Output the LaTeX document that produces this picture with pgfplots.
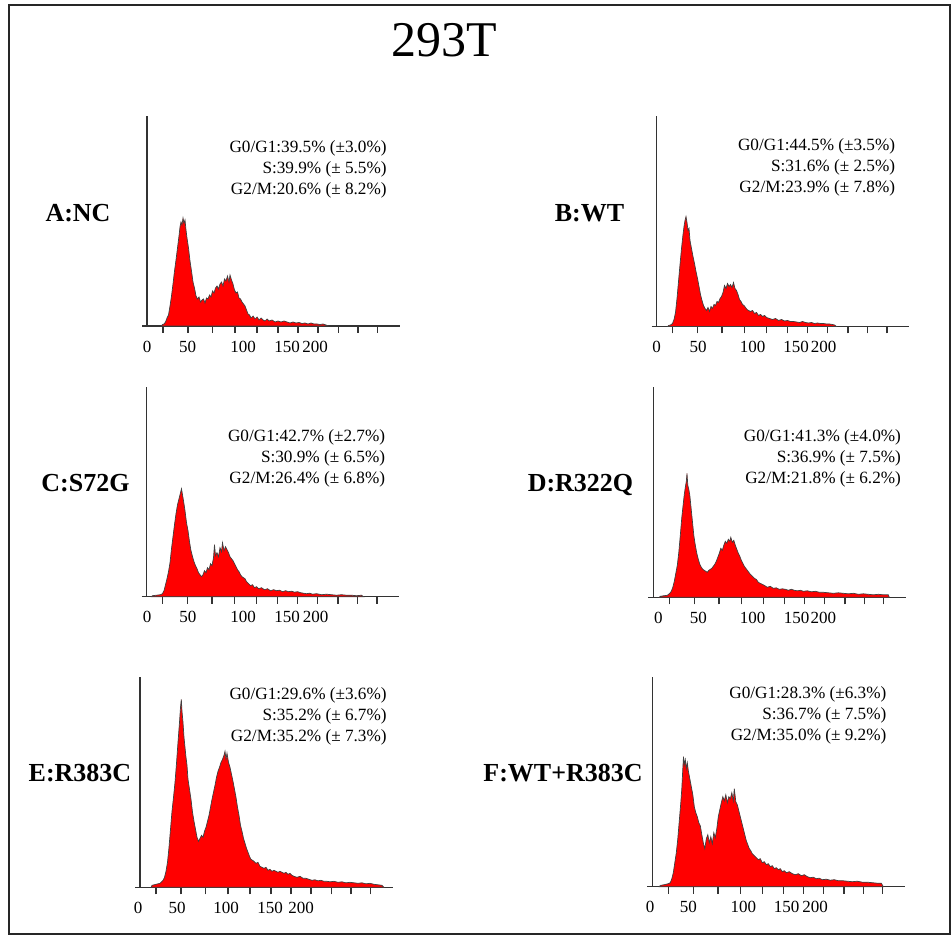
\documentclass[border=0pt]{standalone}
\usepackage{fontspec}
\setmainfont{Liberation Serif}
\usepackage{pgfplots}
\pgfplotsset{compat=1.18}

% one unit = one pixel of the 952x935 reference (0.5pt)
\pgfplotsset{
  hist/.style={
    x=0.5pt, y=0.5pt, anchor=origin,
    xmin=-5, xmax=252.5, ymin=0, ymax=210,
    axis x line=bottom, axis y line=middle,
    axis line style={-, black!80, line width=0.7pt},
    every inner y axis line/.append style={-},
    every outer x axis line/.append style={-},
    ytick=\empty,
    xtick={16,41,65.5,88,110,131,151,171,191.5,211,230.3},
    xticklabels={},
    tick align=outside, major tick length=3.5pt,
    tick style={black!80, line width=0.7pt},
    font=\fontsize{8.5}{10}\selectfont,
    extra x tick labels={0,50,100,150,200},
    extra x tick style={major tick length=0pt, tick label style={anchor=base, yshift=-13pt}},
    clip=false,
  },
  hbar/.style={fill=red, draw=black!75, line width=0.35pt, mark=none},
}
\tikzset{
  note/.style={anchor=base east, inner sep=0pt, font=\fontsize{8.6}{10}\selectfont},
  plab/.style={anchor=base, font=\fontsize{13}{15}\selectfont\bfseries},
}

\begin{document}
\begin{tikzpicture}
\useasboundingbox (0pt,0pt) rectangle (476pt,-467.5pt);
\draw[black!85, line width=1pt] (4.5pt,-2.5pt) rectangle (475pt,-467pt);
\node[anchor=base, font=\fontsize{25}{28}\selectfont] at (222.25pt,-28.5pt) {293T};

\node[plab] at (39pt,-111pt) {A:NC};
\node[plab] at (294.75pt,-111pt) {B:WT};
\node[plab] at (42.75pt,-245.5pt) {C:S72G};
\node[plab] at (290.25pt,-245.5pt) {D:R322Q};
\node[plab] at (40pt,-390.5pt) {E:R383C};
\node[plab] at (281.5pt,-390.5pt) {F:WT+R383C};

% A:NC
\begin{axis}[hist, at={(73.5pt,-163pt)}, extra x ticks={0,40.5,96,140,168}]
\addplot[hbar] coordinates {
(14,0) (15.5,1.5) (17,2) (18.5,4) (20,8) (21.5,11) (23,20) (24.5,30) (26,42) (27.5,55)
(29,66) (30.5,78) (32,90) (33,99) (34,104) (35,101) (36,108) (37,103) (38,106) (39,96)
(40,88) (41.5,78) (43,65) (44.5,55) (46,44) (47.5,38) (49,30) (50.5,27) (52,29) (53.5,24)
(55,26) (56.5,27) (58,23) (59.5,28) (61,27) (62.5,31) (64,29) (65.5,35) (67,33) (68.5,38)
(70,40) (71.5,37) (73,42) (74.5,44) (76,40) (77.5,47) (79,45) (80.5,50) (82,44) (83,51)
(84.5,46) (86,42) (87.5,36) (89,33) (90.5,34) (92,28) (93.5,27) (95,24) (96.5,22) (98,20)
(99.5,16) (101,12) (102.5,11) (104,8) (106,10) (108,7) (110,9) (112,6) (114,8) (116,6)
(118,5) (120,7) (122,5) (125,6) (128,4) (131,5) (134,4) (137,5) (140,4) (143,3)
(146,4) (149,3) (152,3.5) (155,2.5) (158,3) (161,2) (164,3) (167,2) (170,2) (173,1.5)
(176,2) (179,1) (181,0)
} \closedcycle;
\node[note] at (axis cs:240,173) {G0/G1:39.5\% (±3.0\%)};
\node[note] at (axis cs:240,152) {S:39.9\% (± 5.5\%)};
\node[note] at (axis cs:240,131) {G2/M:20.6\% (± 8.2\%)};
\end{axis}

% B:WT
\begin{axis}[hist, at={(328.25pt,-163.25pt)}, extra x ticks={0,41.5,96,139.5,167}]
\addplot[hbar] coordinates {
(11,0) (12,1) (14,1.5) (16,3) (17.5,7) (19,14) (20.5,28) (22,45) (23.5,62) (25,78)
(26.5,92) (27.5,100) (28.5,106) (29.5,110) (30.5,104) (31.5,96) (32.5,98) (33.5,86) (35,78) (36.5,70)
(38,63) (39.5,55) (41,48) (42.5,40) (44,32) (45.5,26) (47,21) (48.5,18) (50,16) (51.5,19)
(53,15) (54.5,20) (56,18) (57.5,22) (59,21) (60.5,25) (62,24) (63.5,28) (65,30) (66.5,34)
(68,41) (69.5,38) (71,43) (72.5,40) (74,42) (75.5,39) (77,44) (78.5,38) (80,36) (81.5,32)
(83,27) (84.5,25) (86,22) (87.5,21) (89,19) (90.5,17) (92,16) (94,15) (96,16) (98,13)
(100,14) (102,11) (104,12) (106,10) (108,11) (110,9) (113,8) (116,7) (119,8) (122,6)
(125,7) (128,5.5) (131,6) (134,5) (137,5) (140,4.5) (143,4) (146,5) (149,4) (152,3.5)
(155,4) (158,3) (161,3.5) (164,3) (167,3) (170,2.5) (173,2.5) (176,2) (178,1.5) (180,0)
} \closedcycle;
\node[note] at (axis cs:239,176) {G0/G1:44.5\% (±3.5\%)};
\node[note] at (axis cs:239,155) {S:31.6\% (± 2.5\%)};
\node[note] at (axis cs:239,134) {G2/M:23.9\% (± 7.8\%)};
\end{axis}

% C:S72G
\begin{axis}[hist, at={(73.25pt,-298.35pt)}, extra x ticks={0.5,41.3,96.7,140.7,169}]
\addplot[hbar] coordinates {
(5,0) (6,1) (10,1.5) (14,2) (16,3) (17.5,6) (19,12) (20.5,18) (22,25) (23.5,34)
(25,48) (26.5,60) (28,72) (29.5,83) (31,92) (32.5,98) (34,104) (35,108) (36,102) (37,96)
(38.5,86) (40,74) (41.5,66) (43,55) (44.5,46) (46,40) (47.5,35) (49,31) (50.5,28) (52,24)
(53.5,22) (55,20) (56.5,22) (58,26) (59.5,24) (61,29) (62.5,27) (64,33) (65.5,31) (67,39)
(68,52) (69,41) (70.5,44) (72,40) (73.5,49) (75,45) (76,54) (77.5,46) (79,50) (80.5,47)
(82,44) (83.5,40) (85,38) (86.5,36) (88,33) (89.5,30) (91,27) (92.5,25) (94,22) (95.5,20)
(97,19) (98.5,18) (100,15) (102,13) (104,11) (106,12) (108,9) (110,10) (112,8) (115,9)
(118,7) (121,8) (124,6) (127,7) (130,6) (133,6.5) (136,5) (139,6) (142,5) (145,5.5)
(148,4.5) (151,5) (154,4) (157,3.5) (160,3) (163,3.5) (166,2.5) (170,3) (175,2) (180,2.5)
(185,2) (190,1.5) (195,2) (200,1.5) (205,1.5) (210,1) (215,1.5) (217,0)
} \closedcycle;
\node[note] at (axis cs:239,155) {G0/G1:42.7\% (±2.7\%)};
\node[note] at (axis cs:239,134) {S:30.9\% (± 6.5\%)};
\node[note] at (axis cs:239,113) {G2/M:26.4\% (± 6.8\%)};
\end{axis}

% D:R322Q
\begin{axis}[hist, at={(326.65pt,-298.65pt)}, extra x ticks={5,45,99.3,143.3,170}]
\addplot[hbar] coordinates {
(6,0) (7,1) (10,1.5) (14,2) (16.5,4) (18,6) (19.5,10) (21,16) (22.5,24) (24,32)
(25.5,45) (27,62) (28.5,80) (30,94) (31,103) (32,110) (33,116) (33.7,124) (34.5,112) (35.5,108)
(36.5,102) (37.5,92) (38.5,82) (39.5,72) (40.5,62) (42,52) (43.5,44) (45,38) (46.5,33) (48,30)
(49.5,28) (51,27) (52.5,26) (54,25) (55.5,27) (57,28) (58.5,29) (60,31) (61.5,33) (63,36)
(64.5,40) (66,44) (67.5,49) (69,47) (70.5,52) (72,56) (73.5,54) (75,58) (76.5,56) (77.5,60)
(79,55) (80.5,57) (82,52) (83.5,48) (85,44) (86.5,41) (88,37) (89.5,34) (91,31) (92.5,29)
(94,27) (95.5,25) (97,23) (99,21) (101,19) (103,18) (105,15) (107,14) (109,13) (111,12)
(114,10) (117,11) (120,9) (123,9.5) (126,8) (129,8.5) (132,8) (135,7) (138,8) (141,7)
(144,6.5) (147,7) (150,6) (154,6.5) (158,5.5) (162,6) (166,5) (170,5) (175,4.5) (180,4)
(185,4.5) (190,4) (195,3.5) (200,4) (205,3) (210,3.5) (215,3) (220,2.5) (225,3) (230,2.5)
(235,2.5) (236,0)
} \closedcycle;
\node[note] at (axis cs:248,156) {G0/G1:41.3\% (±4.0\%)};
\node[note] at (axis cs:248,135) {S:36.9\% (± 7.5\%)};
\node[note] at (axis cs:248,114) {G2/M:21.8\% (± 6.2\%)};
\end{axis}

% E:R383C
\begin{axis}[hist, at={(70pt,-443.65pt)}, extra x ticks={-2,37,86,130,161}]
\addplot[hbar] coordinates {
(11,0) (12,2) (16,3) (20,4) (23,7) (24.5,10) (26,16) (27.5,25) (29,40) (30.5,58)
(32,76) (33.5,90) (35,105) (36.5,124) (38,145) (39.5,165) (40.5,180) (41.3,188) (42,176) (43,165)
(44,150) (45,140) (46,130) (47,122) (48,108) (49.5,98) (51,88) (52.5,75) (54,66) (55.5,58)
(57,50) (58.5,46) (60,49) (61.5,52) (63,50) (64.5,56) (66,60) (67.5,66) (69,72) (70.5,80)
(72,88) (73.5,95) (75,102) (76.5,110) (78,116) (79.5,120) (81,125) (82.5,128) (84,132) (85,136)
(86,128) (87,134) (88.5,125) (90,120) (91.5,113) (93,106) (94.5,98) (96,90) (97.5,80) (99,72)
(100.5,62) (102,56) (103.5,49) (105,44) (106.5,39) (108,35) (109.5,31) (111,28) (112.5,27) (114,26)
(116,24) (118,25) (120,21) (122,20) (124,19) (126,20) (128,17) (130,18) (132,16) (134,17)
(136,16) (138,15) (140,16) (142,15) (144,14) (146,15) (148,13) (150,14) (152,12) (154,11)
(157,10) (160,11) (163,9) (166,9) (169,8) (172,7) (175,7.5) (178,6.5) (181,7) (184,6)
(187,6) (190,5.5) (194,6) (198,5) (202,5.5) (206,4.5) (210,5) (214,4.5) (218,4) (222,4.5)
(226,3.5) (230,4) (234,3) (238,2.5) (242,2) (244,0)
} \closedcycle;
\node[note] at (axis cs:247,188) {G0/G1:29.6\% (±3.6\%)};
\node[note] at (axis cs:247,167) {S:35.2\% (± 6.7\%)};
\node[note] at (axis cs:247,146) {G2/M:35.2\% (± 7.3\%)};
\end{axis}

% F:WT+R383C
\begin{axis}[hist, at={(326.15pt,-443.35pt)}, extra x ticks={-2.3,36,91,134.3,162.7}]
\addplot[hbar] coordinates {
(7,0) (8,1.3) (12,2) (16,3) (18,4) (19.5,8) (21,14) (22.5,24) (24,34) (25.5,48)
(27,66) (28.5,84) (29.5,98) (30.5,118) (31.2,130) (32,122) (33,127) (34,118) (35,124) (36,116)
(37.5,108) (39,100) (40.5,92) (42,80) (43.5,74) (45,70) (46.5,64) (48,61) (49.5,52) (51,44)
(52.5,38) (54,48) (55.5,52) (57,44) (58.5,50) (60,43) (61.5,54) (63,49) (64.5,58) (66,70)
(67.5,77) (69,84) (70.5,90) (72,86) (73.5,92) (75,84) (76.5,90) (78,88) (79.5,94) (81,86)
(82,98) (83.5,85) (85,82) (86.5,76) (88,70) (89.5,64) (91,58) (92.5,52) (94,46) (95.5,42)
(97,38) (98.5,36) (100,33) (102,31) (104,29) (106,27) (108,28) (110,24) (112,25) (114,22)
(116,23) (118,20) (120,21) (122,18) (124,19) (126,17) (128,18) (130,15) (132,16) (134,14)
(137,15) (140,13) (143,12) (146,13) (149,11) (152,12) (155,10) (158,9) (161,9.5) (164,8)
(167,8.5) (170,7) (174,7.5) (178,6.5) (182,7) (186,6) (190,6) (195,5.5) (200,5) (205,5.5)
(210,4.5) (215,4.5) (220,4) (225,3.5) (229,3.5) (231,0)
} \closedcycle;
\node[note] at (axis cs:234.5,188) {G0/G1:28.3\% (±6.3\%)};
\node[note] at (axis cs:234.5,167) {S:36.7\% (± 7.5\%)};
\node[note] at (axis cs:234.5,146) {G2/M:35.0\% (± 9.2\%)};
\end{axis}
\end{tikzpicture}
\end{document}
